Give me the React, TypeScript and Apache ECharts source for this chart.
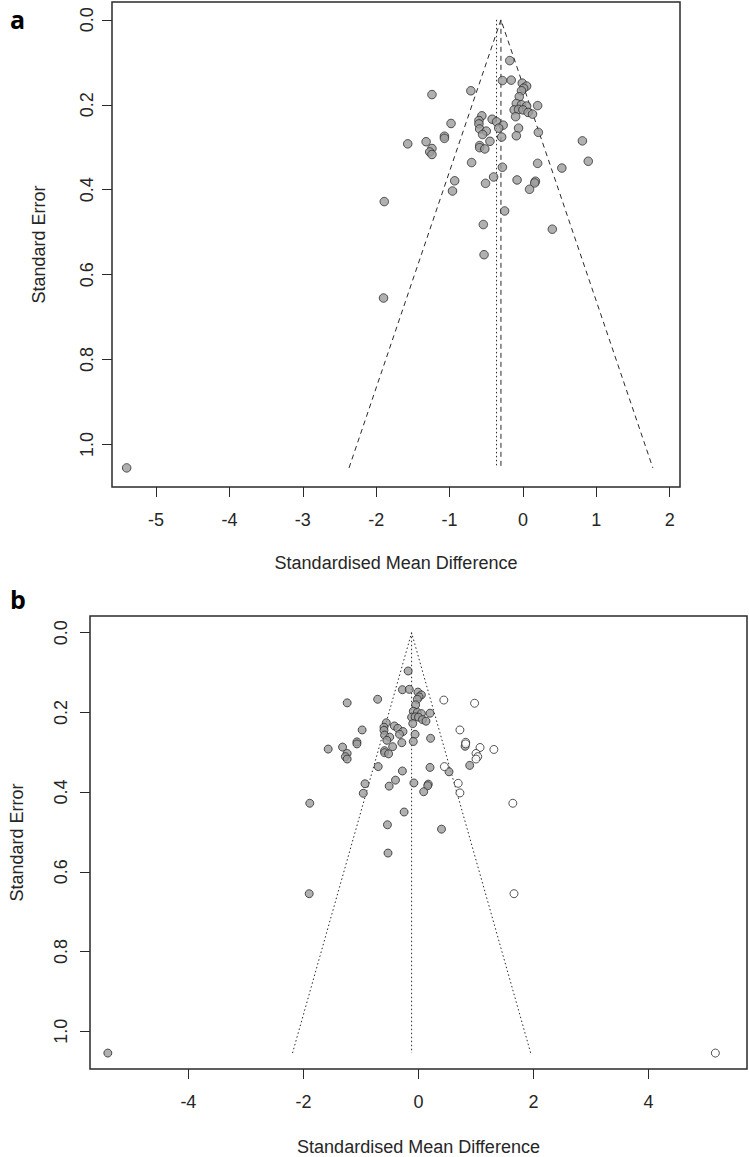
import React, { useEffect, useRef } from "react";
import * as echarts from "echarts";

// Observed studies: standardised mean difference and standard error
const studySMD = [
  -0.18, -0.28, -0.16, -0.71, -0.01, 0.05, 0.01, -0.02, -0.05, -1.24,
  0.2, -0.09, -0.02, 0.05, -0.12, -0.06, 0.0, 0.07, 0.13, -0.1,
  -0.56, -0.6, -0.6, -0.59, -0.5, -0.55, -0.42, -0.36, -0.27, -0.33,
  -0.29, -0.45, -0.06, -0.09, 0.21, -0.98, -1.32, -1.57, -1.07, -1.07,
  -1.24, -1.27, -1.24, -0.59, -0.59, -0.52, 0.81, 0.89, 0.53, 0.2,
  -0.28, -0.7, -0.4, -0.51, -0.93, -0.96, -0.08, 0.17, 0.16, 0.09,
  -1.89, -0.25, 0.4, -0.54, -0.53, -1.9, -5.4,
];
const studySE = [
  0.096, 0.143, 0.142, 0.167, 0.149, 0.156, 0.161, 0.167, 0.181, 0.176,
  0.202, 0.197, 0.2, 0.203, 0.212, 0.211, 0.212, 0.218, 0.222, 0.228,
  0.226, 0.237, 0.245, 0.257, 0.262, 0.27, 0.234, 0.24, 0.248, 0.255,
  0.276, 0.286, 0.255, 0.273, 0.265, 0.244, 0.287, 0.292, 0.274, 0.279,
  0.303, 0.311, 0.317, 0.296, 0.301, 0.304, 0.285, 0.333, 0.349, 0.338,
  0.347, 0.336, 0.37, 0.385, 0.379, 0.403, 0.377, 0.38, 0.384, 0.399,
  0.428, 0.45, 0.493, 0.482, 0.553, 0.655, 1.055,
];

// Imputed (trim-and-fill) studies shown as open circles in panel b
const filledSMD = [
  0.44, 0.975, 0.72, 0.82, 0.82, 1.07, 1.31, 1.0, 1.03, 1.0,
  0.45, 0.69, 0.72, 1.64, 1.66, 5.16,
];
const filledSE = [
  0.169, 0.177, 0.244, 0.275, 0.279, 0.288, 0.293, 0.303, 0.311, 0.317,
  0.336, 0.378, 0.402, 0.428, 0.655, 1.055,
];

// Funnel outlines (x at bottom-left, apex, bottom-right) and their SE values
const funnelA_x = [-2.37, -0.3, 1.77];
const funnelB_x = [-2.19, -0.12, 1.95];
const funnelSE = [1.055, 0, 1.055];
const centreA = -0.3;
const centreA2 = -0.36;
const centreB = -0.12;
const seTop = 0;
const seBottom = 1.055;

// Tick values
const xTicksA = [-5, -4, -3, -2, -1, 0, 1, 2];
const xTicksB = [-4, -2, 0, 2, 4];
const yTicks = [0, 0.2, 0.4, 0.6, 0.8, 1.0];

const FONT = "Liberation Sans, Arial, sans-serif";
const TXT = "#262626";
const LINE = "#2a2a2a";

function zip(xs: number[], ys: number[]) {
  return xs.map((x, i) => [x, ys[i]]);
}

export default function App() {
  const ref = useRef<HTMLDivElement>(null);
  useEffect(() => {
    if (!ref.current) return;
    const chart = echarts.init(ref.current, undefined, { renderer: "svg" });

    const xAxisBase = (idx: number, min: number, max: number, ticks: number[], margin: number, gap: number, fs: number) => ({
      gridIndex: idx,
      type: "value",
      position: "bottom",
      min,
      max,
      axisLine: { show: false, onZero: false },
      splitLine: { show: false },
      axisTick: {
        show: true,
        length: 10,
        customValues: ticks,
        lineStyle: { color: LINE, width: 1 },
      },
      axisLabel: {
        customValues: ticks,
        margin,
        color: TXT,
        fontSize: fs,
        fontFamily: FONT,
        formatter: (v: number) => String(v),
      },
      name: "Standardised Mean Difference",
      nameLocation: "middle",
      nameGap: gap,
      nameTextStyle: { color: TXT, fontSize: fs, fontFamily: FONT },
    });

    const yAxisBase = (idx: number, min: number, max: number, margin: number, gap: number, fs: number) => ({
      gridIndex: idx,
      type: "value",
      position: "left",
      inverse: true,
      min,
      max,
      axisLine: { show: false, onZero: false },
      splitLine: { show: false },
      axisTick: {
        show: true,
        length: 10,
        customValues: yTicks,
        lineStyle: { color: LINE, width: 1 },
      },
      axisLabel: {
        customValues: yTicks,
        rotate: 90,
        margin,
        color: TXT,
        fontSize: fs,
        fontFamily: FONT,
        formatter: (v: number) => v.toFixed(1),
      },
      name: "Standard Error",
      nameLocation: "middle",
      nameRotate: 90,
      nameGap: gap,
      nameTextStyle: { color: TXT, fontSize: fs, fontFamily: FONT },
    });

    const pointStyle = { color: "#9c9c9c", borderColor: "#2b2b2b", borderWidth: 1 };
    const openStyle = { color: "#ffffff", borderColor: "#2b2b2b", borderWidth: 1 };

    const lineSeries = (idx: number, data: number[][], type: any) => ({
      type: "line",
      xAxisIndex: idx,
      yAxisIndex: idx,
      data,
      symbol: "none",
      silent: true,
      z: 2,
      lineStyle: { color: LINE, width: 1, type },
    });

    chart.setOption({
      animation: false,
      backgroundColor: "#ffffff",
      grid: [
        { left: 112, top: 2, width: 568, height: 485, show: true, borderColor: LINE, borderWidth: 1.5, backgroundColor: "transparent" },
        { left: 87, top: 616, width: 660, height: 456, show: true, borderColor: LINE, borderWidth: 1.5, backgroundColor: "transparent" },
      ],
      xAxis: [
        xAxisBase(0, -5.6, 2.14, xTicksA, 24, 67, 18),
        xAxisBase(1, -5.71, 5.71, xTicksB, 24, 69, 18),
      ],
      yAxis: [
        yAxisBase(0, -0.042, 1.1, 16, 64, 18),
        yAxisBase(1, -0.042, 1.095, 20, 64, 18),
      ],
      graphic: [
        { type: "text", left: 10, top: 6, style: { text: "a", fontSize: 25, fontWeight: "bold", fontFamily: "Open Sans, DejaVu Sans, sans-serif", fill: "#000" } },
        { type: "text", left: 10, top: 586, style: { text: "b", fontSize: 25, fontWeight: "bold", fontFamily: "Open Sans, DejaVu Sans, sans-serif", fill: "#000" } },
      ],
      series: [
        lineSeries(0, zip(funnelA_x, funnelSE), [5, 4]),
        lineSeries(0, [[centreA, seTop], [centreA, seBottom]], [5, 4]),
        lineSeries(0, [[centreA2, seTop], [centreA2, seBottom]], [1.5, 2.5]),
        {
          type: "scatter",
          xAxisIndex: 0,
          yAxisIndex: 0,
          data: zip(studySMD, studySE),
          symbolSize: 8.5,
          itemStyle: pointStyle,
          z: 5,
        },
        lineSeries(1, zip(funnelB_x, funnelSE), [1.5, 2.5]),
        lineSeries(1, [[centreB, seTop], [centreB, seBottom]], [1.5, 2.5]),
        {
          type: "scatter",
          xAxisIndex: 1,
          yAxisIndex: 1,
          data: zip(studySMD, studySE),
          symbolSize: 8,
          itemStyle: pointStyle,
          z: 5,
        },
        {
          type: "scatter",
          xAxisIndex: 1,
          yAxisIndex: 1,
          data: zip(filledSMD, filledSE),
          symbolSize: 8,
          itemStyle: openStyle,
          z: 6,
        },
      ],
    });
    return () => chart.dispose();
  }, []);
  return (
    <div
      ref={ref}
      style={{ position: "absolute", left: 0, top: 0, width: 749, height: 1157, background: "#fff" }}
    />
  );
}
